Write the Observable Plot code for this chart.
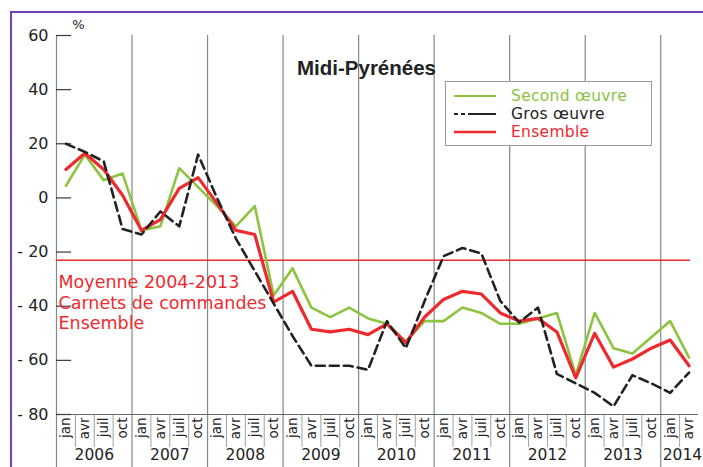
<!DOCTYPE html>
<html>
<head>
<meta charset="utf-8">
<script src="https://cdn.jsdelivr.net/npm/d3@7"></script>
<script src="https://cdn.jsdelivr.net/npm/@observablehq/plot@0.6"></script>
<style>
  html, body { margin: 0; padding: 0; background: #fff; }
  #wrap { position: relative; width: 703px; height: 467px; overflow: hidden; font-family: "DejaVu Sans", sans-serif; }
  #frame { position: absolute; left: 10px; top: 11px; width: 720px; height: 480px; border-top: 2px solid #7443b3; border-left: 2px solid #7443b3; pointer-events: none; }
  #legend { position: absolute; left: 445px; top: 81px; width: 205px; height: 63px; border: 1px solid #9a9a9a; background: #fff; font-size: 15.5px; line-height: 18px; }
  .row { position: absolute; left: 0; height: 18px; display: flex; align-items: center; }
  .row svg { margin-left: 8px; margin-right: 15px; }
  .row span { line-height: 18px; letter-spacing: 0.3px; }
</style>
</head>
<body>
<div id="wrap"></div>
<script>
const quarterNames = ["jan", "avr", "juil", "oct"];
const years = [2006, 2007, 2008, 2009, 2010, 2011, 2012, 2013, 2014];
const secondOeuvre = [4.5, 16, 6.5, 9, -12, -10.5, 11, 4, -3, -10.5, -3, -36, -26, -40.5, -44, -40.5, -44.5, -46.5, -53, -45.5, -45.5, -40.5, -42.5, -46.5, -46.5, -44.5, -42.5, -65.5, -42.5, -55.5, -57.5, -51.5, -45.5, -59];
const grosOeuvre = [20, 17, 13.5, -11.5, -13.5, -5, -10.5, 16, 0, -15, -27, -39, -51, -62, -62, -62, -63.5, -45.5, -55.5, -38, -21.5, -18.5, -20.5, -38, -46, -40.5, -65, -68.5, -72, -77, -65.5, -68.5, -72, -64.5];
const ensemble = [10.5, 16.5, 10.5, 1, -12, -8, 3.5, 7.5, -2, -12, -13.5, -38.5, -34.5, -48.5, -49.5, -48.5, -50.5, -46.5, -53.5, -44, -37.5, -34.5, -35.5, -42.5, -45.5, -44.5, -49.5, -66.5, -50, -62.5, -59.5, -55.5, -52.5, -62];
const yTicks = [60, 40, 20, 0, -20, -40, -60, -80];
const moyenne = -23;
const title = "Midi-Pyrénées";
const noteLines = ["Moyenne 2004-2013", "Carnets de commandes", "Ensemble"];
const seriesNames = ["Second œuvre", "Gros œuvre", "Ensemble"];
const colors = {green: "#8cc43f", black: "#222222", red: "#ee2a2f", grid: "#7f8b8b"};

const firstYear = years[0];
const tOf = i => firstYear + (i + 0.5) / 4;
const periods = secondOeuvre.map((_, i) => ({i, q: i % 4, year: firstYear + Math.floor(i / 4)}));
const rows = vals => vals.map((v, i) => ({t: tOf(i), v}));
const quarterBounds = periods.filter(d => d.q !== 0).map(d => firstYear + d.i / 4);
const lastYear = years[years.length - 1];
const fmtY = d => d < 0 ? "- " + (-d) : String(d);

const chart = Plot.plot({
  width: 703,
  height: 467,
  marginLeft: 56,
  marginRight: 5,
  marginTop: 35,
  marginBottom: 53,
  style: {fontFamily: "DejaVu Sans, sans-serif", fontSize: "16px", color: "#222", background: "transparent", overflow: "visible"},
  x: {domain: [firstYear, lastYear + 0.5], axis: null},
  y: {domain: [-80, 60], axis: null},
  marks: [
    Plot.ruleX(years, {x: d => d, stroke: colors.grid, strokeWidth: 1.2, insetBottom: -53}),
    Plot.ruleX(quarterBounds, {x: d => d, stroke: "#9aa3a3", strokeWidth: 1, insetTop: 379, insetBottom: -33}),
    Plot.ruleY([-80], {stroke: "#5f6d6d", strokeWidth: 1.2}),
    Plot.ruleY(yTicks, {y: d => d, x1: firstYear, x2: firstYear + 0.2, stroke: "#3a3a3a", strokeWidth: 1.2}),
    Plot.axisY({ticks: yTicks, tickSize: 0, tickPadding: 8, tickFormat: fmtY, fontSize: 16, label: null}),
    Plot.ruleY([moyenne], {stroke: colors.red, strokeWidth: 1.6, insetRight: 8}),
    Plot.text([noteLines.join("\n")], {x: firstYear, y: moyenne, dx: 2, dy: 42, textAnchor: "start", lineAnchor: "middle", lineHeight: 1.17, fill: colors.red, fontSize: 17.5}),
    Plot.line(rows(secondOeuvre), {x: "t", y: "v", stroke: colors.green, strokeWidth: 2.6}),
    Plot.line(rows(ensemble), {x: "t", y: "v", stroke: colors.red, strokeWidth: 3.2}),
    Plot.line(rows(grosOeuvre), {x: "t", y: "v", stroke: colors.black, strokeWidth: 2.6, strokeDasharray: "9,5"}),
    Plot.text(periods, {x: d => tOf(d.i), text: d => quarterNames[d.q], frameAnchor: "bottom", dy: 3, rotate: -90, textAnchor: "end", lineAnchor: "middle", fontSize: 13.5, fill: "#222"}),
    Plot.text(years.filter(y => y < lastYear), {x: d => d + 0.5, text: d => String(d), frameAnchor: "bottom", dy: 45, fontSize: 15.5, fill: "#222"}),
    Plot.text([lastYear], {x: d => d, text: d => String(d), frameAnchor: "bottom", dy: 45, dx: 2, textAnchor: "start", fontSize: 15.5, fill: "#222"}),
    Plot.text([title], {frameAnchor: "top", dx: -11, dy: 25, fontFamily: "Liberation Sans, Arial, sans-serif", fontWeight: "bold", fontSize: 20.5, fill: "#222"}),
    Plot.text(["%"], {frameAnchor: "top-left", dx: 22, dy: -11, textAnchor: "middle", lineAnchor: "middle", fontSize: 13, fill: "#222"})
  ]
});

const wrap = document.getElementById("wrap");
wrap.appendChild(chart);

const legend = document.createElement("div");
legend.id = "legend";
const legendItems = [
  {name: seriesNames[0], color: colors.green, dash: null, top: 5},
  {name: seriesNames[1], color: colors.black, dash: "4,3,4,3,30", top: 23},
  {name: seriesNames[2], color: colors.red, dash: null, top: 41}
];
for (const it of legendItems) {
  const row = document.createElement("div");
  row.className = "row";
  row.style.top = it.top + "px";
  row.innerHTML = `<svg width="42" height="6"><line x1="0" x2="42" y1="3" y2="3" stroke="${it.color}" stroke-width="${it.color === colors.red ? 2.4 : 2.2}" ${it.dash ? `stroke-dasharray="${it.dash}"` : ""}/></svg><span style="color:${it.color}">${it.name}</span>`;
  legend.appendChild(row);
}
wrap.appendChild(legend);

const frame = document.createElement("div");
frame.id = "frame";
wrap.appendChild(frame);
</script>
</body>
</html>
